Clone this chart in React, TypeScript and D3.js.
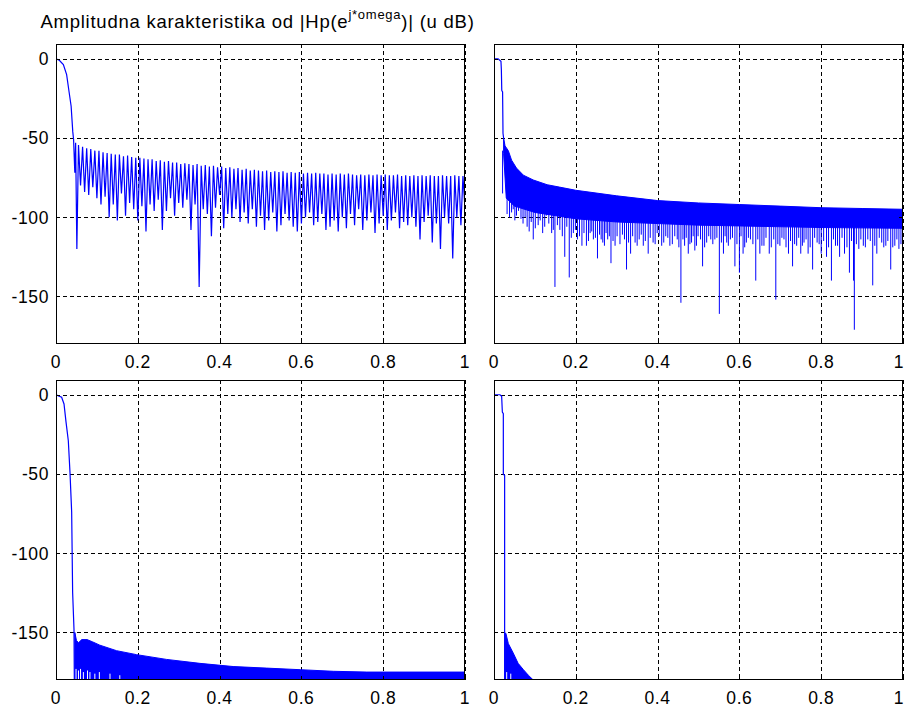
import React from 'react';
import * as d3 from 'd3';

// axis ticks
const xTicks = [0, 0.2, 0.4, 0.6, 0.8, 1];
const xTickLabels = ['0', '0.2', '0.4', '0.6', '0.8', '1'];
const yTicks = [0, -50, -100, -150];
const yTickLabels = ['0', '-50', '-100', '-150'];

const titleMain = 'Amplitudna karakteristika od |Hp(e';
const titleSup = 'j*omega';
const titleEnd = ')| (u dB)';

type Pt = [number, number];

// top-left: [normalized freq, dB], main lobe then null / sidelobe peak pairs
const tlTrace: Pt[] = [
  [0, 0], [0.008, -1], [0.018, -3.7], [0.026, -10], [0.032, -21], [0.037, -30], [0.041, -46], [0.043, -51],
  [0.046, -72], [0.048, -53], [0.051, -120], [0.055, -54.5],
  [0.06, -80], [0.065, -55.5], [0.07, -84], [0.075, -56.5], [0.08, -86], [0.085, -57], [0.09, -81], [0.095, -58],
  [0.1, -88], [0.105, -58], [0.11, -92], [0.115, -59], [0.12, -87], [0.125, -59.5], [0.13, -100], [0.135, -60], [0.14, -92], [0.145, -60.5],
  [0.15, -102], [0.155, -60.5], [0.16, -85], [0.165, -61.5], [0.17, -99], [0.175, -61], [0.18, -91], [0.185, -62], [0.19, -95], [0.195, -62.5],
  [0.2, -102], [0.205, -62.5], [0.21, -93], [0.215, -63], [0.22, -109], [0.225, -63.5], [0.23, -92], [0.235, -63.5], [0.24, -96], [0.245, -64.5],
  [0.25, -89], [0.255, -64], [0.26, -108], [0.265, -65], [0.27, -96], [0.275, -64.5], [0.28, -88], [0.285, -65.5], [0.29, -99], [0.295, -65.5],
  [0.3, -91], [0.305, -66.5], [0.31, -94], [0.315, -66], [0.32, -89], [0.325, -66.5], [0.33, -108], [0.335, -67], [0.34, -92], [0.345, -66.5],
  [0.35, -144], [0.352, -116], [0.355, -67.5], [0.36, -95], [0.365, -67], [0.37, -98], [0.375, -68], [0.38, -112], [0.385, -67.5], [0.39, -94], [0.395, -68.5],
  [0.4, -86], [0.405, -68], [0.41, -107], [0.415, -69], [0.42, -98], [0.425, -68.5], [0.43, -100], [0.435, -69.5], [0.44, -95], [0.445, -69],
  [0.45, -103], [0.455, -70], [0.46, -97], [0.465, -69.5], [0.47, -104], [0.475, -70.5], [0.48, -95], [0.485, -70], [0.49, -106], [0.495, -70.5],
  [0.5, -99], [0.505, -71], [0.51, -108], [0.515, -70.5], [0.52, -102], [0.525, -71.5], [0.53, -97], [0.535, -71], [0.54, -109], [0.545, -71.5],
  [0.55, -105], [0.555, -71], [0.56, -98], [0.565, -72], [0.57, -102], [0.575, -71.5], [0.58, -106], [0.585, -72], [0.59, -109], [0.595, -71.5],
  [0.6, -104], [0.605, -72.5], [0.61, -100], [0.615, -72], [0.62, -97], [0.625, -72.5], [0.63, -105], [0.635, -72], [0.64, -103], [0.645, -72.5],
  [0.65, -98], [0.655, -72.5], [0.66, -108], [0.665, -73], [0.67, -106], [0.675, -72.5], [0.68, -102], [0.685, -73], [0.69, -109], [0.695, -72.5],
  [0.7, -100], [0.705, -73], [0.71, -107], [0.715, -72.5], [0.72, -98], [0.725, -73], [0.73, -105], [0.735, -73.5], [0.74, -95], [0.745, -73],
  [0.75, -108], [0.755, -73.5], [0.76, -102], [0.765, -73], [0.77, -97], [0.775, -73.5], [0.78, -110], [0.785, -73], [0.79, -104], [0.795, -73.5],
  [0.8, -99], [0.805, -73], [0.81, -108], [0.815, -73.5], [0.82, -102], [0.825, -73.5], [0.83, -97], [0.835, -73], [0.84, -107], [0.845, -74],
  [0.85, -103], [0.855, -73.5], [0.86, -105], [0.865, -74], [0.87, -100], [0.875, -73.5], [0.88, -106], [0.885, -74], [0.89, -114], [0.895, -73.5],
  [0.9, -103], [0.905, -74], [0.91, -99], [0.915, -73.5], [0.92, -116], [0.925, -74], [0.93, -104], [0.935, -74], [0.94, -120], [0.945, -73.5],
  [0.95, -100], [0.955, -74], [0.96, -104], [0.965, -74], [0.97, -126], [0.975, -73.5], [0.98, -100], [0.985, -74], [0.99, -105], [0.995, -74],
  [1.0, -95],
];

// top-right: main lobe, sidelobe band edges, nulls below the band
const trMain: Pt[] = [[0, 0], [0.01, 0], [0.017, -1.6], [0.018, -7], [0.019, -20], [0.021, -21], [0.022, -47], [0.0235, -50]];
const trUpper: Pt[] = [
  [0.0235, -50], [0.027, -55], [0.035, -58], [0.043, -64], [0.055, -69], [0.072, -73.5], [0.096, -76.5], [0.13, -79.5],
  [0.16, -81], [0.2, -83], [0.3, -86.5], [0.4, -89.5], [0.5, -91], [0.6, -92], [0.7, -93], [0.8, -94], [0.9, -94.5], [1.0, -95],
];
const trLower: Pt[] = [
  [0.0235, -60], [0.03, -88], [0.05, -93], [0.1, -97], [0.15, -99], [0.2, -101], [0.3, -103], [0.4, -104],
  [0.5, -105], [0.6, -105.5], [0.8, -106.5], [1.0, -107],
];
const trNulls: Pt[] = [
  [0.021, -85], [0.038, -100], [0.047, -95], [0.055, -99], [0.066, -101], [0.086, -109], [0.096, -114], [0.108, -105],
  [0.119, -110], [0.128, -99], [0.141, -110], [0.149, -144], [0.161, -108], [0.173, -125], [0.184, -138], [0.194, -110],
  [0.204, -114], [0.215, -118], [0.226, -118], [0.235, -110], [0.243, -114], [0.253, -126], [0.262, -114], [0.27, -118],
  [0.278, -114], [0.286, -129], [0.296, -118], [0.324, -133], [0.334, -123], [0.345, -116], [0.355, -114], [0.365, -118],
  [0.377, -123], [0.389, -116], [0.399, -110], [0.41, -118], [0.42, -112], [0.43, -118], [0.448, -114], [0.457, -154],
  [0.466, -118], [0.475, -123], [0.483, -116], [0.491, -121], [0.499, -112], [0.51, -131], [0.52, -116], [0.53, -114],
  [0.54, -114], [0.551, -161], [0.561, -123], [0.569, -116], [0.578, -114], [0.589, -131], [0.6, -135], [0.609, -123],
  [0.617, -116], [0.627, -114], [0.64, -140], [0.65, -123], [0.66, -118], [0.673, -123], [0.689, -152], [0.699, -118],
  [0.709, -114], [0.72, -123], [0.73, -131], [0.74, -118], [0.75, -123], [0.758, -116], [0.768, -123], [0.779, -133],
  [0.79, -116], [0.8, -123], [0.813, -125], [0.825, -140], [0.835, -118], [0.845, -125], [0.857, -123], [0.869, -135],
  [0.879, -140], [0.881, -171], [0.892, -120], [0.903, -118], [0.914, -114], [0.926, -143], [0.936, -123], [0.948, -116],
  [0.958, -118], [0.97, -133], [0.98, -118], [0.99, -120],
  [0.032, -98], [0.043, -97], [0.051, -102], [0.06, -96], [0.071, -104], [0.076, -100], [0.081, -106], [0.091, -103],
  [0.101, -107], [0.113, -102], [0.124, -106], [0.134, -104], [0.145, -108], [0.155, -105], [0.167, -112], [0.178, -106],
  [0.189, -113], [0.199, -108], [0.209, -112], [0.22, -110], [0.231, -115], [0.239, -109], [0.248, -113], [0.258, -111],
  [0.266, -116], [0.274, -110], [0.282, -112], [0.291, -115], [0.301, -112], [0.308, -117], [0.314, -111], [0.319, -114],
  [0.329, -116], [0.339, -112], [0.35, -118], [0.36, -111], [0.37, -115], [0.382, -113], [0.394, -117], [0.404, -112],
  [0.415, -116], [0.425, -113], [0.436, -117], [0.442, -112], [0.452, -119], [0.462, -114], [0.47, -113], [0.479, -117],
  [0.487, -112], [0.495, -118], [0.505, -114], [0.515, -119], [0.525, -112], [0.535, -117], [0.545, -113], [0.556, -116],
  [0.565, -112], [0.573, -118], [0.583, -113], [0.594, -117], [0.604, -112], [0.613, -119], [0.622, -113], [0.633, -117],
  [0.645, -114], [0.655, -118], [0.665, -113], [0.678, -119], [0.684, -114], [0.694, -117], [0.704, -113], [0.714, -119],
  [0.725, -115], [0.735, -117], [0.745, -113], [0.754, -118], [0.763, -114], [0.773, -119], [0.784, -113], [0.795, -117],
  [0.806, -115], [0.818, -119], [0.83, -114], [0.84, -118], [0.851, -113], [0.863, -119], [0.874, -115], [0.886, -117],
  [0.897, -114], [0.908, -119], [0.92, -115], [0.931, -118], [0.942, -113], [0.953, -119], [0.963, -115], [0.975, -119],
  [0.985, -114], [0.995, -117],
];

// bottom-left
const blMain: Pt[] = [
  [0, 0], [0.0138, -1.6], [0.0196, -5.8], [0.0244, -17], [0.0301, -29], [0.0342, -49], [0.0383, -74],
  [0.0407, -125], [0.044, -148], [0.045, -190],
];
const blUpper: Pt[] = [
  [0.046, -150], [0.05, -155], [0.055, -156.5], [0.063, -154.5], [0.076, -154.5], [0.09, -156], [0.107, -158],
  [0.148, -161.5], [0.197, -164], [0.27, -167], [0.352, -169.5], [0.433, -171.5], [0.515, -172.5], [0.597, -173.5],
  [0.678, -174.5], [0.76, -175], [0.841, -175], [1.0, -175],
];
const blLower: Pt[] = [[0.046, -190], [1.0, -190]];
const blGaps: Pt[] = [
  [0.049, -173], [0.055, -174], [0.06, -173], [0.067, -175], [0.077, -174], [0.083, -175], [0.095, -176],
  [0.106, -175], [0.132, -176], [0.156, -177],
];

// bottom-right
const brMain: Pt[] = [
  [0, 0], [0.0147, 0], [0.0187, -1], [0.0204, -11], [0.0228, -12], [0.0228, -50], [0.026, -51], [0.026, -190],
];
const brUpper: Pt[] = [
  [0.027, -150.5], [0.029, -150.5], [0.035, -157], [0.047, -163], [0.059, -169.5], [0.072, -173.5], [0.084, -177], [0.096, -180],
];
const brLower: Pt[] = [[0.027, -190], [0.096, -190]];
const brGaps: Pt[] = [[0.031, -175], [0.041, -176]];

const blue = '#0000ff';
const font = 'Arial, "Liberation Sans", Helvetica, sans-serif';

type PanelProps = {
  id: string;
  left: number;
  top: number;
  width: number;
  height: number;
  yLabels: boolean;
  trace: Pt[];
  upper?: Pt[];
  lower?: Pt[];
  nulls?: Pt[];
  gaps?: Pt[];
};

function Panel({ id, left, top, width, height, yLabels, trace, upper, lower, nulls, gaps }: PanelProps) {
  const x = d3.scaleLinear().domain([0, 1]).range([left, left + width]);
  const y = d3.scaleLinear().domain([-180, 9.3]).range([top + height, top]);
  const line = d3.line<Pt>().x(d => x(d[0])).y(d => y(d[1]));

  let band = '';
  let env: d3.ScaleLinear<number, number> | null = null;
  if (upper && lower) {
    band = line([...upper, ...lower.slice().reverse()]) + 'Z';
    env = d3.scaleLinear().domain(upper.map(d => d[0])).range(upper.map(d => d[1])).clamp(true);
  }

  const tl = 4;
  const px = (v: number) => Math.round(v) + 0.5;
  return (
    <g>
      <defs>
        <clipPath id={id}>
          <rect x={left} y={top} width={width} height={height} />
        </clipPath>
      </defs>
      <rect x={left} y={top} width={width} height={height} fill="#fff" />
      {/* grid */}
      <g stroke="#000" strokeWidth={1} strokeDasharray="4,3" shapeRendering="crispEdges">
        {xTicks.map(t => (
          <line key={'gx' + t} x1={px(x(t))} x2={px(x(t))} y1={top} y2={top + height} />
        ))}
        {yTicks.map(t => (
          <line key={'gy' + t} x1={left} x2={left + width} y1={px(y(t))} y2={px(y(t))} />
        ))}
      </g>
      {/* data */}
      <g clipPath={`url(#${id})`}>
        {band && <path d={band} fill={blue} stroke={blue} strokeWidth={1} />}
        {env && nulls && nulls.map((d, i) => (
          <line key={'n' + i} x1={x(d[0])} x2={x(d[0])} y1={y(env!(d[0]) - 8)} y2={y(d[1])} stroke={blue} strokeWidth={1} />
        ))}
        {gaps && gaps.map((d, i) => (
          <line key={'g' + i} x1={x(d[0])} x2={x(d[0])} y1={y(d[1])} y2={y(-190)} stroke="#fff" strokeWidth={1} />
        ))}
        <path d={line(trace) || ''} fill="none" stroke={blue} strokeWidth={1.2} />
      </g>
      {/* ticks */}
      <g stroke="#000" strokeWidth={1} shapeRendering="crispEdges">
        {xTicks.map(t => (
          <g key={'tx' + t}>
            <line x1={px(x(t))} x2={px(x(t))} y1={top + height} y2={top + height - tl} />
            <line x1={px(x(t))} x2={px(x(t))} y1={top} y2={top + tl} />
          </g>
        ))}
        {yTicks.map(t => (
          <g key={'ty' + t}>
            <line x1={left} x2={left + tl} y1={px(y(t))} y2={px(y(t))} />
            <line x1={left + width} x2={left + width - tl} y1={px(y(t))} y2={px(y(t))} />
          </g>
        ))}
      </g>
      <rect x={left + 0.5} y={top + 0.5} width={width - 1} height={height - 1} fill="none" stroke="#000" strokeWidth={1} shapeRendering="crispEdges" />
      {/* labels */}
      <g fontFamily={font} fontSize={17.5} letterSpacing={0.6} fill="#000">
        {xTicks.map((t, i) => (
          <text key={'lx' + t} x={Math.min(x(t), 899)} y={top + height + 24} textAnchor="middle">{xTickLabels[i]}</text>
        ))}
        {yLabels && yTicks.map((t, i) => (
          <text key={'ly' + t} x={left - 7} y={y(t)} dy="0.36em" textAnchor="end">{yTickLabels[i]}</text>
        ))}
      </g>
    </g>
  );
}

export default function App() {
  const colL = 56, colR = 494, rowT = 44, rowB = 380, pw = 409, ph = 300;
  return (
    <svg width={905} height={710} style={{ position: 'absolute', left: 0, top: 0, background: '#fff' }}>
      <rect width={905} height={710} fill="#fff" />
      <text x={colL + pw / 2 - 3} y={28} textAnchor="middle" fontFamily={font} fontSize={18.5} letterSpacing={0.75} fill="#000">
        {titleMain}
        <tspan fontSize={13} dy={-9}>{titleSup}</tspan>
        <tspan dy={9}>{titleEnd}</tspan>
      </text>
      <Panel id="c1" left={colL} top={rowT} width={pw} height={ph} yLabels trace={tlTrace} />
      <Panel id="c2" left={colR} top={rowT} width={pw} height={ph} yLabels={false} trace={trMain} upper={trUpper} lower={trLower} nulls={trNulls} />
      <Panel id="c3" left={colL} top={rowB} width={pw} height={ph} yLabels trace={blMain} upper={blUpper} lower={blLower} gaps={blGaps} />
      <Panel id="c4" left={colR} top={rowB} width={pw} height={ph} yLabels={false} trace={brMain} upper={brUpper} lower={brLower} gaps={brGaps} />
    </svg>
  );
}
